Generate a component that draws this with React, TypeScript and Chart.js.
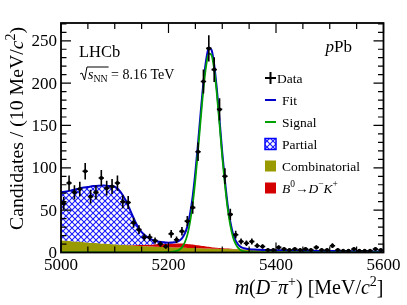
import React, { useEffect, useRef } from "react";
import { Chart, registerables } from "chart.js";

Chart.register(...registerables);

// ---------------- data ----------------
const dataX = [5005,5015,5025,5035,5045,5055,5065,5075,5085,5095,5105,5115,5125,5135,5145,5155,5165,5175,5185,5195,
  5205,5215,5225,5235,5245,5255,5265,5275,5285,5295,5305,5315,5325,5335,5345,5355,5365,5375,5385,5395,
  5405,5415,5425,5435,5445,5455,5465,5475,5485,5495,5505,5515,5525,5535,5545,5555,5565,5575,5585,5595];
const dataY = [58,82,71,75,96,66,71,88,76,78,82,60,59,35,27,18,18,14,10,7,
  22,15,25,37,53,119,202,241,216,169,90,45,21,13,11,13,8,7,3,3,
  6,4,3,4,3,4,3,6,3,3,8,3,2,2,4,2,2,2,4,3];
const binHalfWidth = 5;

const curveX = [5000,5010,5020,5030,5040,5050,5060,5070,5080,5090,5100,5110,5120,5130,5140,5150,5160,5170,5180,
  5190,5195,5200,5205,5210,5215,5220,5225,5230,5235,5240,5245,5250,5255,5260,5265,5270,5275,5280,5285,5290,5295,5300,5305,5310,5315,5320,5325,5330,5335,5340,5345,5350,5355,5360,
  5370,5380,5390,5400,5420,5440,5460,5480,5500,5520,5540,5560,5580,5600];
const combinatorial = [14.5,14.0,13.4,12.9,12.4,11.9,11.4,10.9,10.5,10.0,9.6,9.2,8.8,8.5,8.1,7.8,7.5,7.2,6.9,
  6.6,6.45,6.3,6.15,6.0,5.9,5.8,5.7,5.6,5.45,5.3,5.2,5.1,5.0,4.9,4.8,4.7,4.6,4.5,4.4,4.3,4.2,4.1,4.05,4.0,3.9,3.8,3.7,3.6,3.55,3.5,3.4,3.3,3.25,3.2,
  3.1,2.9,2.8,2.7,2.5,2.3,2.1,1.9,1.8,1.7,1.5,1.4,1.3,1.2];
const misIdDK = [0,0,0,0,0,0,0,0,0,0,0,0,0.3,0.5,0.8,1.2,1.7,2.3,3.0,
  3.7,4.0,4.3,4.5,4.7,4.8,4.9,4.9,4.8,4.6,4.4,4.1,3.8,3.5,3.1,2.8,2.4,2.1,1.8,1.55,1.3,1.1,0.9,0.75,0.6,0.5,0.4,0.3,0.25,0.2,0.15,0.12,0.1,0.08,0.05,
  0,0,0,0,0,0,0,0,0,0,0,0,0,0];
const partial = [56.5,58,60,62,64,65.5,67,68,68.5,68.5,68,63,53,39,25,15,9.3,5.5,3.0,
  1.7,1.0,0.5,0.3,0.15,0.05,0,0,0,0,0,0,0,0,0,0,0,0,0,0,0,0,0,0,0,0,0,0,0,0,0,0,0,0,0,
  0,0,0,0,0,0,0,0,0,0,0,0,0,0];
const signal = [0,0,0,0,0,0,0,0,0,0,0,0,0,0,0,0,0,0,0,
  0.2,0.3,0.5,0.8,1.2,1.8,3.2,6,11.5,20.5,35.5,57,86,121,158,193,220,235,233,216,187,151,113,80,52,32,18,10,5.2,2.6,1.4,0.8,0.5,0.3,0.2,
  0.1,0,0,0,0,0,0,0,0,0,0,0,0,0];

const xLabelTicks = [5000, 5200, 5400, 5600];
const yLabelTicks = [0, 50, 100, 150, 200, 250];
const X_MIN = 5000, X_MAX = 5600, Y_MIN = 0, Y_MAX = 271;

// ---------------- style ----------------
const SERIF = '"Liberation Serif", "Times New Roman", serif';
const C_FIT = "#0000c8";
const C_SIG = "#00a000";
const C_COMB = "#999900";
const C_RED = "#d40000";
const C_HATCH = "#1a1aff";

type Seg = { t: string; it?: boolean; sup?: boolean; sub?: boolean };

function segFont(s: Seg, size: number) {
  const sz = s.sup || s.sub ? size * 0.7 : size;
  return `${s.it ? "italic " : ""}${sz}px ${SERIF}`;
}
function richWidth(ctx: CanvasRenderingContext2D, segs: Seg[], size: number) {
  let w = 0;
  for (const s of segs) { ctx.font = segFont(s, size); w += ctx.measureText(s.t).width; }
  return w;
}
function drawRich(ctx: CanvasRenderingContext2D, segs: Seg[], x: number, y: number, size: number, align: "left" | "right" | "center" = "left") {
  const w = richWidth(ctx, segs, size);
  let cx = align === "left" ? x : align === "right" ? x - w : x - w / 2;
  ctx.textAlign = "left";
  ctx.textBaseline = "alphabetic";
  for (const s of segs) {
    ctx.font = segFont(s, size);
    const dy = s.sup ? -0.4 * size : s.sub ? 0.22 * size : 0;
    ctx.fillText(s.t, cx, y + dy);
    cx += ctx.measureText(s.t).width;
  }
  return w;
}

function makeHatch(): CanvasPattern | string {
  const s = 6;
  const c = document.createElement("canvas");
  c.width = s; c.height = s;
  const g = c.getContext("2d");
  if (!g) return C_HATCH;
  g.fillStyle = "#ffffff";
  g.fillRect(0, 0, s, s);
  g.strokeStyle = C_HATCH;
  g.lineWidth = 1.1;
  g.beginPath();
  g.moveTo(-1, -1); g.lineTo(s + 1, s + 1);
  g.moveTo(-1, s + 1); g.lineTo(s + 1, -1);
  g.stroke();
  const p = g.createPattern(c, "repeat");
  return p || C_HATCH;
}

const decorPlugin = {
  id: "decor",
  afterDatasetsDraw(chart: any) {
    const ctx: CanvasRenderingContext2D = chart.ctx;
    const a = chart.chartArea;
    const xs = chart.scales.x;
    const ys = chart.scales.y;
    const hatch = chart.$hatch;

    // error bars
    ctx.save();
    ctx.beginPath();
    ctx.rect(a.left, a.top, a.right - a.left, a.bottom - a.top);
    ctx.clip();
    ctx.strokeStyle = "#000";
    ctx.lineWidth = 1.6;
    dataX.forEach((xv, i) => {
      const v = dataY[i];
      const e = Math.sqrt(v);
      const px = xs.getPixelForValue(xv);
      const py = ys.getPixelForValue(v);
      ctx.beginPath();
      ctx.moveTo(px, ys.getPixelForValue(v - e));
      ctx.lineTo(px, ys.getPixelForValue(v + e));
      ctx.moveTo(xs.getPixelForValue(xv - binHalfWidth), py);
      ctx.lineTo(xs.getPixelForValue(xv + binHalfWidth), py);
      ctx.stroke();
    });
    ctx.restore();

    // frame & ticks
    ctx.save();
    ctx.strokeStyle = "#000";
    ctx.lineWidth = 1.2;
    ctx.beginPath();
    for (let v = X_MIN; v <= X_MAX; v += 50) {
      const px = xs.getPixelForValue(v);
      const L = v % 200 === 0 ? 10 : 6;
      ctx.moveTo(px, a.bottom); ctx.lineTo(px, a.bottom - L);
      ctx.moveTo(px, a.top); ctx.lineTo(px, a.top + L);
    }
    for (let v = Y_MIN; v <= Y_MAX; v += 10) {
      const py = ys.getPixelForValue(v);
      const L = v % 50 === 0 ? 10 : 5.5;
      ctx.moveTo(a.left, py); ctx.lineTo(a.left + L, py);
      ctx.moveTo(a.right, py); ctx.lineTo(a.right - L, py);
    }
    ctx.stroke();
    ctx.lineWidth = 1.8;
    ctx.strokeRect(a.left, a.top, a.right - a.left, a.bottom - a.top);
    ctx.restore();

    // tick labels
    ctx.save();
    ctx.fillStyle = "#000";
    ctx.font = `17px ${SERIF}`;
    ctx.textAlign = "center";
    ctx.textBaseline = "alphabetic";
    xLabelTicks.forEach((v) => ctx.fillText(String(v), xs.getPixelForValue(v), 270));
    ctx.textAlign = "right";
    ctx.textBaseline = "middle";
    yLabelTicks.forEach((v) => ctx.fillText(String(v), a.left - 4, ys.getPixelForValue(v) + 1));

    // axis titles
    drawRich(ctx, [
      { t: "m", it: true }, { t: "(" }, { t: "D", it: true }, { t: "\u2212", sup: true },
      { t: "\u03c0", it: true }, { t: "+", sup: true }, { t: ") [MeV/" }, { t: "c", it: true }, { t: "2", sup: true }, { t: "]" },
    ], a.right, 294, 20, "right");

    ctx.save();
    ctx.translate(23, a.top + 4);
    ctx.rotate(-Math.PI / 2);
    drawRich(ctx, [
      { t: "Candidates / (10 MeV/" }, { t: "c", it: true }, { t: "2", sup: true }, { t: ")" },
    ], 0, 0, 19.8, "right");
    ctx.restore();

    // LHCb label
    ctx.font = `16.5px ${SERIF}`;
    ctx.textAlign = "left";
    ctx.textBaseline = "alphabetic";
    ctx.fillText("LHCb", 79, 57);
    // sqrt(s_NN) = 8.16 TeV
    const bx = 80, by = 79;
    ctx.lineWidth = 1;
    ctx.beginPath();
    ctx.moveTo(bx, by - 5);
    ctx.lineTo(bx + 2, by - 6);
    ctx.lineTo(bx + 4.5, by + 1);
    ctx.lineTo(bx + 7, by - 12);
    const sw = richWidth(ctx, [{ t: "s", it: true }, { t: "NN", sub: true }], 14);
    ctx.lineTo(bx + 8 + sw + 1, by - 12);
    ctx.stroke();
    drawRich(ctx, [{ t: "s", it: true }, { t: "NN", sub: true }, { t: " = 8.16 TeV" }], bx + 8, by, 14, "left");

    // pPb
    drawRich(ctx, [{ t: "p", it: true }, { t: "Pb" }], 352, 52, 17, "right");

    // legend
    const lx0 = 265, lx1 = 276, tx = 282;
    const rows = [78, 100, 122, 144, 166, 188];
    ctx.lineWidth = 2;
    ctx.strokeStyle = "#000";
    ctx.beginPath();
    ctx.moveTo(lx0, rows[0]); ctx.lineTo(lx1, rows[0]);
    ctx.moveTo((lx0 + lx1) / 2, rows[0] - 6); ctx.lineTo((lx0 + lx1) / 2, rows[0] + 6);
    ctx.stroke();
    ctx.strokeStyle = C_FIT;
    ctx.beginPath(); ctx.moveTo(lx0, rows[1]); ctx.lineTo(lx1, rows[1]); ctx.stroke();
    ctx.strokeStyle = C_SIG;
    ctx.beginPath(); ctx.moveTo(lx0, rows[2]); ctx.lineTo(lx1, rows[2]); ctx.stroke();
    ctx.fillStyle = hatch;
    ctx.fillRect(lx0, rows[3] - 5.5, lx1 - lx0, 11);
    ctx.strokeStyle = "#0000ff";
    ctx.lineWidth = 1.5;
    ctx.strokeRect(lx0, rows[3] - 5.5, lx1 - lx0, 11);
    ctx.fillStyle = C_COMB;
    ctx.fillRect(lx0, rows[4] - 5.5, lx1 - lx0, 11);
    ctx.fillStyle = C_RED;
    ctx.fillRect(lx0, rows[5] - 5.5, lx1 - lx0, 11);

    ctx.fillStyle = "#000";
    const lsize = 13.5;
    drawRich(ctx, [{ t: "Data" }], 277, rows[0] + 4.5, lsize);
    drawRich(ctx, [{ t: "Fit" }], tx, rows[1] + 4.5, lsize);
    drawRich(ctx, [{ t: "Signal" }], tx, rows[2] + 4.5, lsize);
    drawRich(ctx, [{ t: "Partial" }], tx, rows[3] + 4.5, lsize);
    drawRich(ctx, [{ t: "Combinatorial" }], tx, rows[4] + 4.5, lsize);
    drawRich(ctx, [
      { t: "B", it: true }, { t: "0", sup: true }, { t: "\u2192" }, { t: "D", it: true }, { t: "\u2212", sup: true },
      { t: "K", it: true }, { t: "+", sup: true },
    ], tx, rows[5] + 4.5, lsize);
    ctx.restore();
  },
};

export default function App() {
  const ref = useRef<HTMLCanvasElement | null>(null);
  useEffect(() => {
    if (!ref.current) return;
    const hatch = makeHatch();
    const combPts = curveX.map((x, i) => ({ x, y: combinatorial[i] }));
    const redPts = curveX.map((x, i) => ({ x, y: combinatorial[i] + misIdDK[i] }));
    const partPts = curveX.map((x, i) => ({ x, y: combinatorial[i] + misIdDK[i] + partial[i] }));
    const sigPts = curveX.map((x, i) => ({ x, y: signal[i] }));
    const fitPts = curveX.map((x, i) => ({ x, y: combinatorial[i] + misIdDK[i] + partial[i] + signal[i] }));
    const dataPts = dataX.map((x, i) => ({ x, y: dataY[i] }));

    const common = { pointRadius: 0, cubicInterpolationMode: "monotone" as const };
    const chart = new Chart(ref.current, {
      type: "line",
      data: {
        datasets: [
          { label: "Data", data: dataPts, showLine: false, pointRadius: 2, pointBackgroundColor: "#000", pointBorderColor: "#000", borderColor: "#000", pointBorderWidth: 0 },
          { label: "Signal", data: sigPts, ...common, borderColor: C_SIG, borderWidth: 1.8, fill: false },
          { label: "Fit", data: fitPts, ...common, borderColor: C_FIT, borderWidth: 2, fill: false },
          { label: "Partial", data: partPts, ...common, borderColor: "transparent", borderWidth: 0.01, backgroundColor: hatch as any, fill: 4 },
          { label: "DK", data: redPts, ...common, borderColor: "transparent", borderWidth: 0.01, backgroundColor: C_RED, fill: 5 },
          { label: "Combinatorial", data: combPts, ...common, borderColor: "transparent", borderWidth: 0.01, backgroundColor: C_COMB, fill: "origin" },
        ] as any,
      },
      options: {
        animation: false,
        responsive: false,
        events: [],
        layout: { padding: { left: 61, right: 23.5, top: 23, bottom: 52.5 } },
        scales: {
          x: { type: "linear", min: X_MIN, max: X_MAX, display: false },
          y: { type: "linear", min: Y_MIN, max: Y_MAX, display: false },
        },
        plugins: { legend: { display: false }, tooltip: { enabled: false } },
      },
      plugins: [decorPlugin],
    });
    (chart as any).$hatch = hatch;
    chart.draw();
    return () => chart.destroy();
  }, []);
  return (
    <div style={{ position: "fixed", left: 0, top: 0, width: 407, height: 305, background: "#fff" }}>
      <canvas ref={ref} width={407} height={305} style={{ width: 407, height: 305 }} />
    </div>
  );
}
